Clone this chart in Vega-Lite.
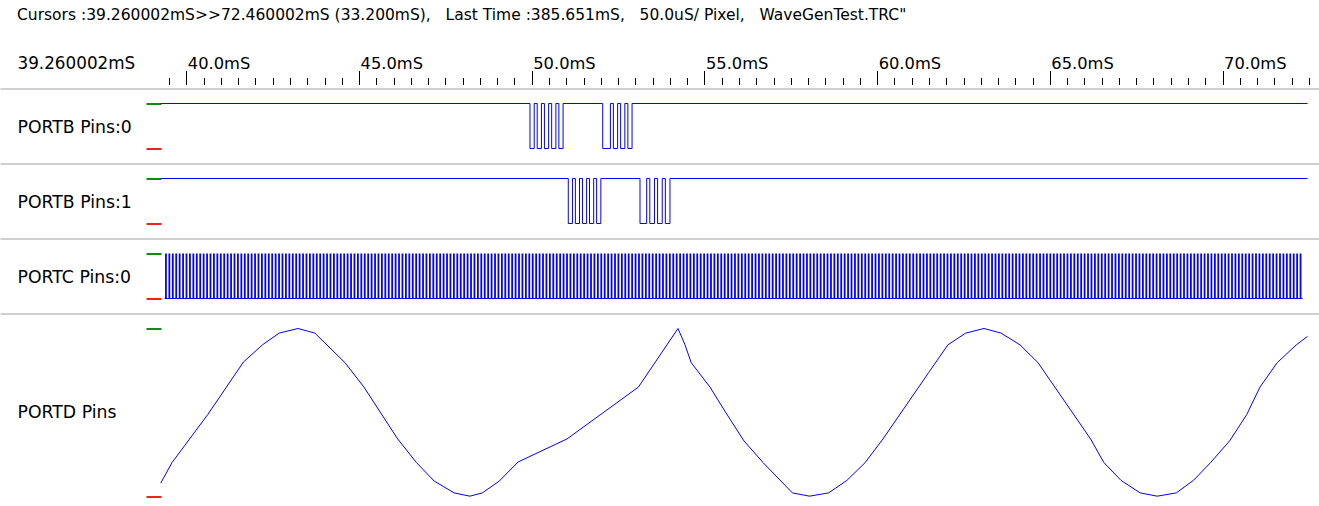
{
  "$schema": "https://vega.github.io/schema/vega-lite/v6.json",
  "background": "white",
  "padding": {"top": 7.5, "left": 0, "right": 0, "bottom": 0},
  "spacing": 0,
  "title": {
    "text": "Cursors :39.260002mS>>72.460002mS (33.200mS),\u00a0\u00a0 Last Time :385.651mS,\u00a0\u00a0 50.0uS/ Pixel,\u00a0\u00a0 WaveGenTest.TRC\"",
    "anchor": "start", "dx": 17, "offset": 32,
    "font": "DejaVu Sans", "fontSize": 15.5, "fontWeight": "normal", "color": "black"
  },
  "datasets": {
    "cur": [{"t": 39.26}, {"t": 72.46}],
    "b0": [
      {"t": 39.26, "v": 1}, {"t": 49.949, "v": 0}, {"t": 50.071, "v": 1}, {"t": 50.158, "v": 0}, {"t": 50.28, "v": 1},
      {"t": 50.367, "v": 0}, {"t": 50.489, "v": 1}, {"t": 50.576, "v": 0}, {"t": 50.698, "v": 1}, {"t": 50.785, "v": 0},
      {"t": 50.907, "v": 1}, {"t": 52.054, "v": 0}, {"t": 52.277, "v": 1}, {"t": 52.364, "v": 0}, {"t": 52.486, "v": 1},
      {"t": 52.573, "v": 0}, {"t": 52.695, "v": 1}, {"t": 52.782, "v": 0}, {"t": 52.904, "v": 1}, {"t": 72.46, "v": 1}
    ],
    "b1": [
      {"t": 39.26, "v": 1}, {"t": 51.058, "v": 0}, {"t": 51.178, "v": 1}, {"t": 51.263, "v": 0}, {"t": 51.383, "v": 1},
      {"t": 51.468, "v": 0}, {"t": 51.588, "v": 1}, {"t": 51.673, "v": 0}, {"t": 51.793, "v": 1}, {"t": 51.878, "v": 0},
      {"t": 52.0, "v": 1}, {"t": 53.134, "v": 0}, {"t": 53.328, "v": 1}, {"t": 53.418, "v": 0}, {"t": 53.553, "v": 1},
      {"t": 53.643, "v": 0}, {"t": 53.778, "v": 1}, {"t": 53.868, "v": 0}, {"t": 54.002, "v": 1}, {"t": 72.46, "v": 1}
    ],
    "c": [
      {"t":39.3},{"t":39.4},{"t":39.5},{"t":39.6},{"t":39.7},{"t":39.8},{"t":39.9},
      {"t":40.0},{"t":40.1},{"t":40.2},{"t":40.3},{"t":40.4},{"t":40.5},{"t":40.6},{"t":40.7},{"t":40.8},{"t":40.9},
      {"t":41.0},{"t":41.1},{"t":41.2},{"t":41.3},{"t":41.4},{"t":41.5},{"t":41.6},{"t":41.7},{"t":41.8},{"t":41.9},
      {"t":42.0},{"t":42.1},{"t":42.2},{"t":42.3},{"t":42.4},{"t":42.5},{"t":42.6},{"t":42.7},{"t":42.8},{"t":42.9},
      {"t":43.0},{"t":43.1},{"t":43.2},{"t":43.3},{"t":43.4},{"t":43.5},{"t":43.6},{"t":43.7},{"t":43.8},{"t":43.9},
      {"t":44.0},{"t":44.1},{"t":44.2},{"t":44.3},{"t":44.4},{"t":44.5},{"t":44.6},{"t":44.7},{"t":44.8},{"t":44.9},
      {"t":45.0},{"t":45.1},{"t":45.2},{"t":45.3},{"t":45.4},{"t":45.5},{"t":45.6},{"t":45.7},{"t":45.8},{"t":45.9},
      {"t":46.0},{"t":46.1},{"t":46.2},{"t":46.3},{"t":46.4},{"t":46.5},{"t":46.6},{"t":46.7},{"t":46.8},{"t":46.9},
      {"t":47.0},{"t":47.1},{"t":47.2},{"t":47.3},{"t":47.4},{"t":47.5},{"t":47.6},{"t":47.7},{"t":47.8},{"t":47.9},
      {"t":48.0},{"t":48.1},{"t":48.2},{"t":48.3},{"t":48.4},{"t":48.5},{"t":48.6},{"t":48.7},{"t":48.8},{"t":48.9},
      {"t":49.0},{"t":49.1},{"t":49.2},{"t":49.3},{"t":49.4},{"t":49.5},{"t":49.6},{"t":49.7},{"t":49.8},{"t":49.9},
      {"t":50.0},{"t":50.1},{"t":50.2},{"t":50.3},{"t":50.4},{"t":50.5},{"t":50.6},{"t":50.7},{"t":50.8},{"t":50.9},
      {"t":51.0},{"t":51.1},{"t":51.2},{"t":51.3},{"t":51.4},{"t":51.5},{"t":51.6},{"t":51.7},{"t":51.8},{"t":51.9},
      {"t":52.0},{"t":52.1},{"t":52.2},{"t":52.3},{"t":52.4},{"t":52.5},{"t":52.6},{"t":52.7},{"t":52.8},{"t":52.9},
      {"t":53.0},{"t":53.1},{"t":53.2},{"t":53.3},{"t":53.4},{"t":53.5},{"t":53.6},{"t":53.7},{"t":53.8},{"t":53.9},
      {"t":54.0},{"t":54.1},{"t":54.2},{"t":54.3},{"t":54.4},{"t":54.5},{"t":54.6},{"t":54.7},{"t":54.8},{"t":54.9},
      {"t":55.0},{"t":55.1},{"t":55.2},{"t":55.3},{"t":55.4},{"t":55.5},{"t":55.6},{"t":55.7},{"t":55.8},{"t":55.9},
      {"t":56.0},{"t":56.1},{"t":56.2},{"t":56.3},{"t":56.4},{"t":56.5},{"t":56.6},{"t":56.7},{"t":56.8},{"t":56.9},
      {"t":57.0},{"t":57.1},{"t":57.2},{"t":57.3},{"t":57.4},{"t":57.5},{"t":57.6},{"t":57.7},{"t":57.8},{"t":57.9},
      {"t":58.0},{"t":58.1},{"t":58.2},{"t":58.3},{"t":58.4},{"t":58.5},{"t":58.6},{"t":58.7},{"t":58.8},{"t":58.9},
      {"t":59.0},{"t":59.1},{"t":59.2},{"t":59.3},{"t":59.4},{"t":59.5},{"t":59.6},{"t":59.7},{"t":59.8},{"t":59.9},
      {"t":60.0},{"t":60.1},{"t":60.2},{"t":60.3},{"t":60.4},{"t":60.5},{"t":60.6},{"t":60.7},{"t":60.8},{"t":60.9},
      {"t":61.0},{"t":61.1},{"t":61.2},{"t":61.3},{"t":61.4},{"t":61.5},{"t":61.6},{"t":61.7},{"t":61.8},{"t":61.9},
      {"t":62.0},{"t":62.1},{"t":62.2},{"t":62.3},{"t":62.4},{"t":62.5},{"t":62.6},{"t":62.7},{"t":62.8},{"t":62.9},
      {"t":63.0},{"t":63.1},{"t":63.2},{"t":63.3},{"t":63.4},{"t":63.5},{"t":63.6},{"t":63.7},{"t":63.8},{"t":63.9},
      {"t":64.0},{"t":64.1},{"t":64.2},{"t":64.3},{"t":64.4},{"t":64.5},{"t":64.6},{"t":64.7},{"t":64.8},{"t":64.9},
      {"t":65.0},{"t":65.1},{"t":65.2},{"t":65.3},{"t":65.4},{"t":65.5},{"t":65.6},{"t":65.7},{"t":65.8},{"t":65.9},
      {"t":66.0},{"t":66.1},{"t":66.2},{"t":66.3},{"t":66.4},{"t":66.5},{"t":66.6},{"t":66.7},{"t":66.8},{"t":66.9},
      {"t":67.0},{"t":67.1},{"t":67.2},{"t":67.3},{"t":67.4},{"t":67.5},{"t":67.6},{"t":67.7},{"t":67.8},{"t":67.9},
      {"t":68.0},{"t":68.1},{"t":68.2},{"t":68.3},{"t":68.4},{"t":68.5},{"t":68.6},{"t":68.7},{"t":68.8},{"t":68.9},
      {"t":69.0},{"t":69.1},{"t":69.2},{"t":69.3},{"t":69.4},{"t":69.5},{"t":69.6},{"t":69.7},{"t":69.8},{"t":69.9},
      {"t":70.0},{"t":70.1},{"t":70.2},{"t":70.3},{"t":70.4},{"t":70.5},{"t":70.6},{"t":70.7},{"t":70.8},{"t":70.9},
      {"t":71.0},{"t":71.1},{"t":71.2},{"t":71.3},{"t":71.4},{"t":71.5},{"t":71.6},{"t":71.7},{"t":71.8},{"t":71.9},
      {"t":72.0},{"t":72.1},{"t":72.2},{"t":72.3},{"t":72.4}
    ],
    "d": [
      {"t": 39.26, "v": 20}, {"t": 39.584, "v": 51}, {"t": 40.618, "v": 124}, {"t": 41.654, "v": 204}, {"t": 42.199, "v": 230},
      {"t": 42.688, "v": 248}, {"t": 43.232, "v": 255}, {"t": 43.721, "v": 248}, {"t": 44.593, "v": 203}, {"t": 45.14, "v": 166},
      {"t": 46.119, "v": 87}, {"t": 46.663, "v": 51}, {"t": 47.175, "v": 23}, {"t": 47.752, "v": 5}, {"t": 48.209, "v": 0},
      {"t": 48.571, "v": 5}, {"t": 49.06, "v": 23}, {"t": 49.605, "v": 52}, {"t": 51.02, "v": 87}, {"t": 53.09, "v": 166},
      {"t": 54.234, "v": 255}, {"t": 54.431, "v": 231}, {"t": 54.616, "v": 203}, {"t": 55.16, "v": 166}, {"t": 55.595, "v": 129},
      {"t": 56.145, "v": 84}, {"t": 56.698, "v": 51}, {"t": 57.546, "v": 5}, {"t": 58.041, "v": 0}, {"t": 58.594, "v": 5},
      {"t": 59.124, "v": 24}, {"t": 59.651, "v": 51}, {"t": 60.169, "v": 87}, {"t": 61.492, "v": 188}, {"t": 62.045, "v": 230},
      {"t": 62.564, "v": 248}, {"t": 63.093, "v": 255}, {"t": 63.588, "v": 248}, {"t": 64.138, "v": 230}, {"t": 64.657, "v": 203},
      {"t": 66.179, "v": 87}, {"t": 66.565, "v": 51}, {"t": 67.06, "v": 24}, {"t": 67.613, "v": 5}, {"t": 68.108, "v": 0},
      {"t": 68.661, "v": 5}, {"t": 69.156, "v": 24}, {"t": 69.651, "v": 51}, {"t": 70.204, "v": 84}, {"t": 70.699, "v": 124},
      {"t": 71.084, "v": 166}, {"t": 71.582, "v": 203}, {"t": 72.132, "v": 230}, {"t": 72.46, "v": 243}
    ]
  },
  "config": {
    "view": {"stroke": null},
    "axis": {"grid": false, "labelFont": "DejaVu Sans", "titleFont": "DejaVu Sans", "titleFontWeight": "normal", "titleColor": "black", "labelColor": "black"},
    "axisY": {
      "offset": -161, "domain": false, "labels": false, "tickSize": 15, "tickWidth": 2,
      "titleX": -144, "titleY": 44, "titleAngle": 0, "titleAlign": "left", "titleBaseline": "alphabetic", "titleFontSize": 17.3
    }
  },
  "vconcat": [
    {
      "width": 1319, "height": 4,
      "data": {"name": "cur"},
      "mark": {"type": "rule", "opacity": 0},
      "encoding": {
        "x": {
          "field": "t", "type": "quantitative",
          "scale": {"domain": [34.605, 72.792], "nice": false, "zero": false},
          "axis": {
            "orient": "top", "domain": false,
            "values": [39.5,40,40.5,41,41.5,42,42.5,43,43.5,44,44.5,45,45.5,46,46.5,47,47.5,48,48.5,49,49.5,50,50.5,51,51.5,52,52.5,53,53.5,54,54.5,55,55.5,56,56.5,57,57.5,58,58.5,59,59.5,60,60.5,61,61.5,62,62.5,63,63.5,64,64.5,65,65.5,66,66.5,67,67.5,68,68.5,69,69.5,70,70.5,71,71.5,72,72.5],
            "tickColor": "black", "tickWidth": 1,
            "tickSize": {"condition": {"test": "datum.value % 5 === 0", "value": 14}, "value": 7},
            "labelExpr": "datum.value % 5 === 0 ? format(datum.value, '.1f') + 'mS' : ''",
            "labelAlign": "left", "labelBaseline": "alphabetic", "labelPadding": 2, "labelOffset": 1,
            "labelFontSize": 16.3, "labelFlush": false, "labelOverlap": false, "labelBound": false,
            "title": "39.260002mS", "titleX": 17, "titleY": -16, "titleAlign": "left", "titleBaseline": "alphabetic",
            "titleAngle": 0, "titleFontSize": 16.8
          }
        }
      }
    },
    {
      "width": 1319, "height": 74.4,
      "data": {"name": "b0"},
      "mark": {"type": "line", "interpolate": "step-after", "color": "#0000ff", "strokeWidth": 1},
      "encoding": {
        "x": {"field": "t", "type": "quantitative", "scale": {"domain": [34.605, 72.792], "nice": false, "zero": false},
          "axis": {"orient": "top", "ticks": false, "labels": false, "title": null, "domainColor": "#a0a0a0"}},
        "y": {"field": "v", "type": "quantitative", "scale": {"domain": [-0.32, 1.3333], "nice": false, "zero": false},
          "axis": {"orient": "left", "values": [0, 1], "title": "PORTB Pins:0",
            "tickColor": {"condition": {"test": "datum.value > 0.5", "value": "#108a10"}, "value": "#f02020"}}}
      }
    },
    {
      "width": 1319, "height": 74.4,
      "data": {"name": "b1"},
      "mark": {"type": "line", "interpolate": "step-after", "color": "#0000ff", "strokeWidth": 1},
      "encoding": {
        "x": {"field": "t", "type": "quantitative", "scale": {"domain": [34.605, 72.792], "nice": false, "zero": false},
          "axis": {"orient": "top", "ticks": false, "labels": false, "title": null, "domainColor": "#a0a0a0"}},
        "y": {"field": "v", "type": "quantitative", "scale": {"domain": [-0.32, 1.3333], "nice": false, "zero": false},
          "axis": {"orient": "left", "values": [0, 1], "title": "PORTB Pins:1",
            "tickColor": {"condition": {"test": "datum.value > 0.5", "value": "#108a10"}, "value": "#f02020"}}}
      }
    },
    {
      "width": 1319, "height": 74.4,
      "layer": [
        {
          "data": {"name": "cur"},
          "mark": {"type": "line", "color": "#0000ff", "strokeWidth": 1},
          "encoding": {
            "x": {"field": "t", "type": "quantitative", "scale": {"domain": [34.605, 72.792], "nice": false, "zero": false},
              "axis": {"orient": "top", "ticks": false, "labels": false, "title": null, "domainColor": "#a0a0a0"}},
            "y": {"datum": 0, "type": "quantitative", "scale": {"domain": [-0.32, 1.3333], "nice": false, "zero": false},
              "axis": {"orient": "left", "values": [0, 1], "title": "PORTC Pins:0",
                "tickColor": {"condition": {"test": "datum.value > 0.5", "value": "#108a10"}, "value": "#f02020"}}}
          }
        },
        {
          "data": {"name": "c"},
          "mark": {"type": "bar", "width": 1.8, "color": "#0000ff"},
          "encoding": {
            "x": {"field": "t", "type": "quantitative"},
            "y": {"datum": 1, "type": "quantitative"},
            "y2": {"datum": 0}
          }
        }
      ]
    },
    {
      "width": 1319, "height": 193,
      "data": {"name": "d"},
      "mark": {"type": "line", "color": "#0000ff", "strokeWidth": 1},
      "encoding": {
        "x": {"field": "t", "type": "quantitative", "scale": {"domain": [34.605, 72.792], "nice": false, "zero": false},
          "axis": {"orient": "top", "ticks": false, "labels": false, "title": null, "domainColor": "#a0a0a0"}},
        "y": {"field": "v", "type": "quantitative", "scale": {"domain": [-15.7, 277.8], "nice": false, "zero": false},
          "axis": {"orient": "left", "values": [0, 255], "title": "PORTD Pins", "titleY": 104,
            "tickColor": {"condition": {"test": "datum.value > 100", "value": "#108a10"}, "value": "#f02020"}}}
      }
    }
  ]
}
